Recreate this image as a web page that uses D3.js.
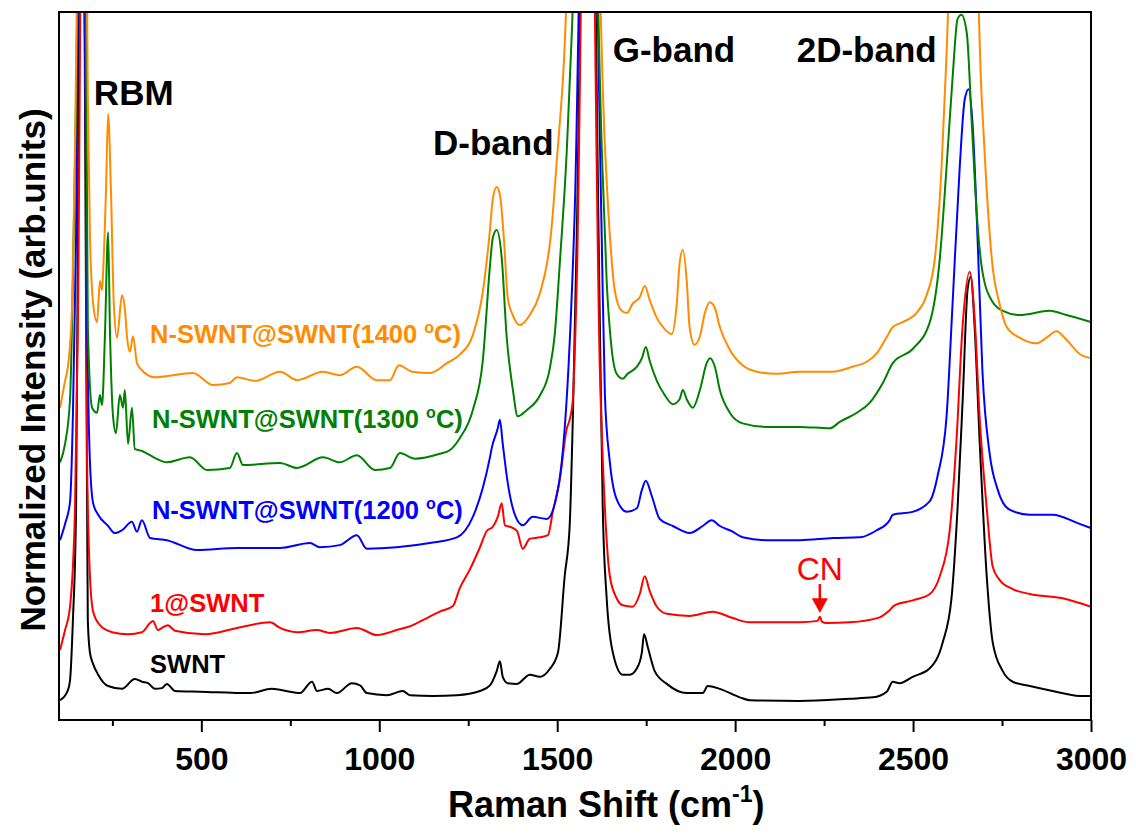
<!DOCTYPE html>
<html>
<head>
<meta charset="utf-8">
<script src="https://cdn.jsdelivr.net/npm/d3@7"></script>
<style>
body { margin: 0; background: #fff; }
text { font-family: "Liberation Sans", Arial, sans-serif; }
</style>
</head>
<body>
<script>
// Raman spectra: [wavenumber (cm-1), normalized intensity incl. offset]
const swnt = [
    [103,2.8],[125,4.2],[131,5.6],[139,14.0],[148,29.9],[153,68],[164,150],[175,68],[179,29.9],[181,14.0],
    [187,9.5],[196,7.9],[210,6.4],[238,4.8],[277,4.4],[313,5.8],[333,5.4],[350,5.2],[370,4.4],[389,4.5],
    [403,5.1],[426,4.1],[496,4.0],[637,3.8],[698,4.4],[749,4.0],[777,3.8],[811,5.4],[825,4.1],[856,4.4],
    [881,3.8],[923,5.2],[946,4.9],[965,3.8],[1021,3.5],[1066,4.1],[1086,3.5],[1151,3.4],[1218,3.5],[1283,4.1],
    [1311,4.9],[1330,6.9],[1339,8.3],[1347,6.1],[1361,5.2],[1387,5.1],[1423,6.4],[1451,6.1],[1479,7.2],[1502,9.5],
    [1521,20.3],[1535,27.4],[1544,42.8],[1555,68.4],[1586,160],[1620,55.5],[1628,29.9],[1639,17.2],[1656,9.6],
    [1684,6.4],[1704,6.4],[1724,7.3],[1738,9.6],[1744,12.1],[1755,10.2],[1774,6.9],[1808,5.1],[1864,3.8],
    [1909,3.8],[1923,4.8],[1957,4.4],[2013,3.2],[2041,2.8],[2181,2.7],[2322,3.0],[2387,3.2],[2426,4.0],
    [2443,5.4],[2462,5.2],[2499,6.1],[2547,7.3],[2583,10.9],[2608,17.2],[2625,29.9],[2640,45.9],[2653,60.7],
    [2662,62.6],[2673,55.5],[2687,39.5],[2707,20.3],[2724,10.9],[2752,6.9],[2780,5.4],[2828,4.8],[2892,4.1],
    [2968,3.4],[3000,3.4]
];
const oneAtSwnt = [
    [103,9.9],[117,12.7],[131,16.0],[145,29.9],[153,55.5],[169,150],[179,36.4],[187,20.3],[196,15.3],[215,13.4],
    [249,12.4],[294,12.1],[333,12.4],[356,13.7],[364,14.0],[378,12.7],[389,13.0],[406,13.4],[426,12.6],[510,12.1],
    [600,13.0],[670,13.7],[693,13.8],[721,13.0],[769,12.4],[825,12.7],[861,12.3],[937,13.0],[993,12.0],[1049,12.7],
    [1094,13.4],[1122,14.1],[1170,15.3],[1207,16.1],[1226,18.6],[1254,21.2],[1283,24.4],[1302,26.7],[1319,27.3],
    [1333,28.7],[1344,30.6],[1353,27.5],[1367,27.3],[1387,26.7],[1403,24.2],[1423,25.6],[1451,25.8],[1474,26.1],
    [1488,29.5],[1507,33.9],[1527,41.2],[1535,42.4],[1544,45.3],[1555,62.0],[1586,160],[1620,49.2],[1634,29.9],
    [1648,20.3],[1667,17.2],[1684,16.2],[1712,16.0],[1732,17.8],[1746,20.3],[1760,18.2],[1780,16.0],[1808,15.0],
    [1872,14.7],[1937,15.3],[1993,14.4],[2041,13.8],[2181,13.8],[2232,14.0],[2238,14.6],[2244,13.9],[2257,13.7],
    [2322,13.8],[2406,14.5],[2434,15.5],[2448,16.2],[2499,16.9],[2547,17.8],[2575,20.3],[2603,26.8],[2622,39.5],
    [2639,55.5],[2659,63.3],[2673,56.8],[2687,42.8],[2707,29.9],[2724,21.6],[2743,19.8],[2780,18.5],[2828,17.8],
    [2920,17.2],[3000,16.0]
];
const nSwnt1200 = [
    [103,25.4],[117,27.7],[131,30.8],[139,42.8],[148,68.4],[162,160],[179,55.5],[187,36.4],[196,30.6],[210,29.0],
    [238,27.4],[257,26.4],[277,26.8],[305,28.0],[319,26.6],[333,28.2],[356,25.7],[403,25.4],[488,24.0],[600,24.3],
    [721,24.3],[805,25.0],[833,24.4],[889,24.7],[937,26.1],[965,24.2],[1049,24.4],[1142,25.0],[1218,25.8],
    [1263,28.7],[1291,32.8],[1311,37.1],[1316,38.4],[1333,41.2],[1339,42.4],[1347,39.0],[1361,33.5],[1381,29.0],
    [1403,27.5],[1431,28.7],[1471,28.4],[1499,31.8],[1516,38.1],[1532,50.1],[1549,71.5],[1586,160],[1625,68.4],
    [1634,45.9],[1648,36.4],[1667,31.2],[1696,29.4],[1724,29.9],[1738,32.5],[1749,33.8],[1766,31.6],[1788,28.4],
    [1825,27.4],[1872,26.4],[1909,27.4],[1934,28.2],[1957,27.4],[1993,26.6],[2021,25.8],[2089,25.4],[2181,25.4],
    [2274,25.7],[2350,25.8],[2398,26.8],[2434,28.2],[2443,29.0],[2499,29.4],[2547,30.9],[2569,34.5],[2594,42.8],
    [2611,58.8],[2631,78.0],[2645,87.6],[2656,89.1],[2667,84.3],[2681,68.4],[2695,49.2],[2715,37.7],[2738,32.5],
    [2771,29.7],[2828,29.0],[2892,29.0],[2968,27.7],[3000,27.1]
];
const nSwnt1300 = [
    [103,36.4],[117,39.0],[131,45.3],[139,62.0],[148,87.6],[167,160],[181,55.5],[193,44.1],[207,43.4],[215,45.9],
    [221,44.5],[229,54.2],[238,68.9],[243,55.5],[252,42.8],[260,40.5],[271,45.9],[280,44.1],[285,46.6],[294,39.0],
    [305,44.1],[313,38.3],[333,38.0],[370,37.0],[403,36.4],[468,37.1],[516,35.3],[580,35.6],[600,37.7],[617,36.0],
    [721,36.3],[769,35.6],[842,37.1],[889,36.4],[937,37.4],[988,35.3],[1030,35.6],[1058,37.7],[1100,36.9],
    [1170,37.6],[1198,38.1],[1226,39.8],[1263,43.8],[1291,50.8],[1311,64.1],[1319,68.1],[1330,69.2],[1344,65.3],
    [1358,54.1],[1375,46.8],[1389,42.9],[1415,43.8],[1451,45.8],[1479,49.6],[1493,54.4],[1507,64.3],[1527,80.5],
    [1541,97.0],[1583,160],[1625,81.1],[1639,62.0],[1653,52.4],[1667,48.9],[1684,48.2],[1698,48.9],[1724,49.9],
    [1738,51.1],[1749,52.7],[1760,50.7],[1780,47.9],[1802,45.9],[1825,44.6],[1844,45.3],[1853,46.6],[1864,45.3],
    [1881,44.1],[1901,46.6],[1920,50.4],[1929,51.1],[1943,49.9],[1957,46.6],[1985,43.4],[2021,41.9],[2089,41.4],
    [2181,41.4],[2266,41.2],[2294,42.1],[2342,43.4],[2378,44.8],[2415,47.6],[2443,50.4],[2499,52.4],[2547,56.2],
    [2575,65.1],[2594,78.0],[2611,90.7],[2625,99.0],[2636,99.6],[2651,97.0],[2665,84.3],[2679,71.5],[2695,63.3],
    [2724,59.0],[2752,57.8],[2799,57.2],[2884,57.8],[2931,57.2],[3000,56.2]
];
const nSwnt1400 = [
    [103,44.1],[117,47.9],[125,49.9],[137,58.8],[145,81.1],[167,170],[181,87.6],[187,68.4],[196,58.8],[207,56.2],
    [215,62.0],[221,60.7],[224,63.3],[232,74.7],[238,85.6],[246,74.7],[254,58.8],[263,54.0],[277,60.0],[285,58.1],
    [291,54.2],[299,52.0],[308,54.2],[319,50.4],[333,49.4],[370,48.4],[406,48.6],[476,49.0],[533,47.3],[580,47.6],
    [600,48.4],[651,47.9],[721,49.2],[769,48.0],[842,49.2],[889,48.7],[937,49.9],[993,48.0],[1030,48.0],[1055,50.1],
    [1092,49.2],[1142,49.0],[1190,50.4],[1226,51.6],[1263,54.4],[1291,60.5],[1311,69.2],[1319,73.6],[1330,75.3],
    [1339,74.2],[1350,68.1],[1361,59.6],[1375,57.2],[1395,55.8],[1423,57.2],[1451,60.2],[1474,65.3],[1482,68.4],
    [1499,79.1],[1516,90.4],[1580,170],[1634,81.1],[1648,68.4],[1662,60.6],[1681,57.8],[1696,57.5],[1712,58.8],
    [1732,59.7],[1746,61.3],[1760,59.3],[1780,56.8],[1802,55.2],[1822,54.5],[1836,58.8],[1844,64.5],[1853,66.4],
    [1864,62.0],[1872,55.5],[1886,53.0],[1901,54.2],[1915,57.5],[1929,59.0],[1943,58.2],[1957,55.5],[1985,52.3],
    [2021,50.1],[2061,49.2],[2117,48.9],[2181,49.2],[2274,49.2],[2330,49.9],[2370,50.6],[2398,51.8],[2426,54.1],
    [2443,55.5],[2471,56.2],[2510,57.5],[2538,60.0],[2561,65.1],[2580,78.0],[2594,93.9],[2642,170],[2693,87.6],
    [2707,74.7],[2724,63.8],[2743,58.8],[2763,55.5],[2799,54.0],[2847,53.2],[2875,54.0],[2903,54.9],[2931,53.7],
    [2968,51.7],[3000,51.1]
];

const sampleNames = ["SWNT", "1@SWNT", "N-SWNT@SWNT(1200 ", "N-SWNT@SWNT(1300 ", "N-SWNT@SWNT(1400 "];
const sampleSpectra = [swnt, oneAtSwnt, nSwnt1200, nSwnt1300, nSwnt1400];
const colours = ["#000000", "#ff0000", "#0000ff", "#008000", "#ff8c00"];

const xTicks = [500, 1000, 1500, 2000, 2500, 3000];
const xMinorTicks = [250, 750, 1250, 1750, 2250, 2750];

// Dimensions
const W = 1136, H = 834;
const margin = { top: 12, right: 45, bottom: 114, left: 59 };
const width = W - margin.left - margin.right;
const height = H - margin.top - margin.bottom;

const svg = d3.select("body")
    .append("svg")
    .attr("width", W)
    .attr("height", H);

const g = svg.append("g")
    .attr("transform", `translate(${margin.left}, ${margin.top})`);

const x = d3.scaleLinear().domain([100, 3000]).range([0, width]);
const y = d3.scaleLinear().domain([0, 100]).range([height, 0]);

g.append("clipPath")
    .attr("id", "plot-clip")
    .append("rect")
    .attr("width", width)
    .attr("height", height);

// Spectra
const line = d3.line()
    .x((d) => x(d[0]))
    .y((d) => y(d[1]))
    .curve(d3.curveMonotoneX);

g.append("g")
    .attr("clip-path", "url(#plot-clip)")
    .selectAll("path")
    .data(sampleSpectra)
    .join("path")
    .attr("fill", "none")
    .attr("stroke", (d, i) => colours[i])
    .attr("stroke-width", 2)
    .attr("stroke-linejoin", "round")
    .attr("d", line);

// X axis, major and minor ticks
const xAxis = g.append("g")
    .attr("transform", `translate(0, ${height})`)
    .call(d3.axisBottom(x).tickValues(xTicks).tickSize(12).tickPadding(15).tickFormat(d3.format("d")));
xAxis.select(".domain").remove();
xAxis.selectAll(".tick line").attr("stroke", "#000").attr("stroke-width", 2);
xAxis.selectAll(".tick text")
    .attr("fill", "#000")
    .style("font-size", "32px")
    .style("font-weight", "bold")
    .style("font-family", "'Liberation Sans', Arial, sans-serif");

const xMinor = g.append("g")
    .attr("transform", `translate(0, ${height})`)
    .call(d3.axisBottom(x).tickValues(xMinorTicks).tickSize(6).tickFormat(""));
xMinor.select(".domain").remove();
xMinor.selectAll(".tick line").attr("stroke", "#000").attr("stroke-width", 2);

// Frame
g.append("rect")
    .attr("width", width)
    .attr("height", height)
    .attr("fill", "none")
    .attr("stroke", "#000")
    .attr("stroke-width", 2);

// Axis titles
const xTitle = svg.append("text")
    .attr("x", 448)
    .attr("y", 817)
    .style("font-size", "36px")
    .style("font-weight", "bold");
xTitle.append("tspan").text("Raman Shift (cm");
xTitle.append("tspan").attr("dy", -15).style("font-size", "23px").text("-1");
xTitle.append("tspan").attr("dy", 15).text(")");

svg.append("text")
    .attr("transform", `translate(45, ${margin.top + height / 2 + 4}) rotate(-90)`)
    .attr("text-anchor", "middle")
    .style("font-size", "35px")
    .style("font-weight", "bold")
    .text("Normalized Intensity (arb.units)");

// Band annotations
const bands = [
    { text: "RBM", w: 198, v: 86.9 },
    { text: "D-band", w: 1151, v: 79.8 },
    { text: "G-band", w: 1656, v: 92.9 },
    { text: "2D-band", w: 2173, v: 92.9 }
];
g.selectAll(".band")
    .data(bands)
    .join("text")
    .attr("class", "band")
    .attr("x", (d) => x(d.w))
    .attr("y", (d) => y(d.v))
    .style("font-size", "35px")
    .style("font-weight", "bold")
    .text((d) => d.text);

// Sample labels
const labelAnchors = [[356, 6.6], [356, 15.3], [361, 28.4], [361, 41.2], [356, 53.2]];
sampleNames.forEach((name, i) => {
    const t = g.append("text")
        .attr("x", x(labelAnchors[i][0]))
        .attr("y", y(labelAnchors[i][1]))
        .attr("fill", colours[i])
        .style("font-size", "25.5px")
        .style("font-weight", "bold");
    t.append("tspan").text(name);
    if (i >= 2) {
        t.append("tspan").attr("dy", -10).style("font-size", "16px").text("o");
        t.append("tspan").attr("dy", 10).text("C)");
    }
});

// CN marker
const cnW = 2238;
g.append("text")
    .attr("x", x(cnW))
    .attr("y", y(19.8))
    .attr("text-anchor", "middle")
    .attr("fill", "#ff0000")
    .style("font-size", "32px")
    .text("CN");
g.append("line")
    .attr("x1", x(cnW)).attr("x2", x(cnW))
    .attr("y1", y(19.2)).attr("y2", y(16.9))
    .attr("stroke", "#ff0000")
    .attr("stroke-width", 2.5);
g.append("path")
    .attr("d", `M${x(cnW) - 8},${y(17.2)} L${x(cnW) + 8},${y(17.2)} L${x(cnW)},${y(15.1)} Z`)
    .attr("fill", "#ff0000");
</script>
</body>
</html>
